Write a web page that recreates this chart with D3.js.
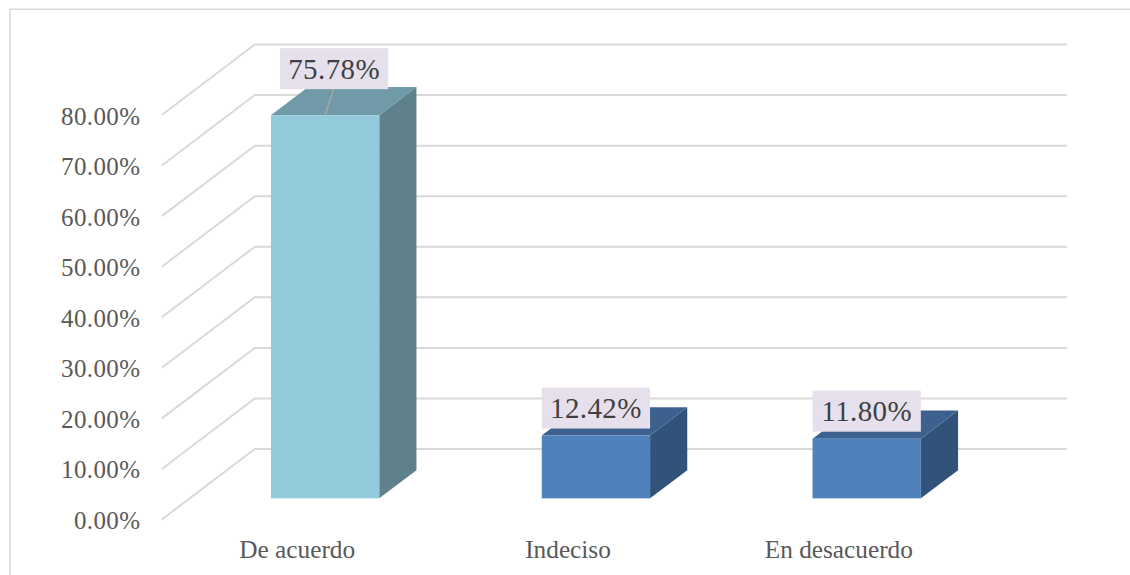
<!DOCTYPE html>
<html>
<head>
<meta charset="utf-8">
<script src="https://cdn.jsdelivr.net/npm/d3@7"></script>
<style>
  html, body { margin: 0; padding: 0; background: #fff; }
  svg { display: block; }
</style>
</head>
<body>
<svg id="chart" width="1130" height="575"></svg>
<script>
// 3D-look column chart, survey answers in percent

const categories = ['De acuerdo', 'Indeciso', 'En desacuerdo'];
const values = [75.78, 12.42, 11.80];
const yTicks = [0, 10, 20, 30, 40, 50, 60, 70, 80];

const FONT = '"Liberation Serif", serif';
const GRID = '#d9d9d9';

// bar colours: front, side, top
const BAR_COLORS = [
    { front: '#93cbdc', side: '#5e818b', top: '#709aa8' },
    { front: '#4f81bd', side: '#325379', top: '#3c618f' },
    { front: '#4f81bd', side: '#325379', top: '#3c618f' }
];

// --- Scales (front plane of the 3D box) ---
const x = d3.scaleBand()
    .domain(categories)
    .range([161.8, 974.2])
    .paddingInner(0.6)
    .paddingOuter(0.3);

const y = d3.scaleLinear()
    .domain([0, 80])
    .range([519.5, 115]);

// how far the chart recedes towards the back wall
const DEPTH = { dx: 93, dy: -70.5 };
const BAR_FRONT = 0.3;
const BAR_BACK = 0.7;

const px = (xFront, depth) => xFront + DEPTH.dx * depth;
const py = (v, depth) => y(v) + DEPTH.dy * depth;
const pts = list => list.map(p => p.join(',')).join(' ');

const svg = d3.select('#chart');

// outer frame, cut by the page edge
svg.append('path')
    .attr('d', 'M10,575V9.2H1130')
    .attr('fill', 'none')
    .attr('stroke', GRID)
    .attr('stroke-width', 1.6);

// --- Grid: side wall plus back wall ---
svg.append('g')
    .selectAll('polyline')
    .data(yTicks)
    .join('polyline')
    .attr('points', d => pts([
        [px(x.range()[0], 0), py(d, 0)],
        [px(x.range()[0], 1), py(d, 1)],
        [px(x.range()[1], 1), py(d, 1)]
    ]))
    .attr('fill', 'none')
    .attr('stroke', GRID)
    .attr('stroke-width', 2);

// --- Axes ---
const yAxis = svg.append('g')
    .attr('transform', 'translate(148.5,1)')
    .call(d3.axisLeft(y).tickValues(yTicks).tickSize(0).tickPadding(8).tickFormat(d => d.toFixed(2) + '%'));
yAxis.select('.domain').remove();
yAxis.selectAll('text')
    .attr('dy', '0.32em')
    .style('font-family', FONT)
    .style('font-size', '25px')
    .style('letter-spacing', '0.4px')
    .style('fill', '#595959');

const xAxis = svg.append('g')
    .attr('transform', 'translate(0,540)')
    .call(d3.axisBottom(x).tickSize(0).tickPadding(0));
xAxis.select('.domain').remove();
xAxis.selectAll('text')
    .attr('dy', '0.71em')
    .style('font-family', FONT)
    .style('font-size', '25.3px')
    .style('fill', '#595959');

// --- Bars ---
const bars = svg.append('g')
    .selectAll('g')
    .data(categories.map((c, i) => ({ c, v: values[i], colors: BAR_COLORS[i] })))
    .join('g');

bars.append('polygon')
    .attr('points', d => {
        const r = x(d.c) + x.bandwidth();
        return pts([
            [px(r, BAR_FRONT), py(d.v, BAR_FRONT)],
            [px(r, BAR_BACK), py(d.v, BAR_BACK)],
            [px(r, BAR_BACK), py(0, BAR_BACK)],
            [px(r, BAR_FRONT), py(0, BAR_FRONT)]
        ]);
    })
    .attr('fill', d => d.colors.side);

bars.append('polygon')
    .attr('points', d => {
        const l = x(d.c), r = l + x.bandwidth();
        return pts([
            [px(l, BAR_FRONT), py(d.v, BAR_FRONT)],
            [px(l, BAR_BACK), py(d.v, BAR_BACK)],
            [px(r, BAR_BACK), py(d.v, BAR_BACK)],
            [px(r, BAR_FRONT), py(d.v, BAR_FRONT)]
        ]);
    })
    .attr('fill', d => d.colors.top);

bars.append('rect')
    .attr('x', d => px(x(d.c), BAR_FRONT))
    .attr('y', d => py(d.v, BAR_FRONT))
    .attr('width', x.bandwidth())
    .attr('height', d => y(0) - y(d.v))
    .attr('fill', d => d.colors.front);

// --- Data labels ---
// the tall bar's label was pulled up and to the right, with a leader line
const isTall = d => d.v > 50;
const boxW = x.bandwidth();
const boxH = 41;
const boxX = d => px(x(d.c), BAR_FRONT) + (isTall(d) ? 9 : 0);
const boxBottom = d => py(d.v, BAR_FRONT) - (isTall(d) ? 26 : 7);

bars.filter(isTall).append('line')
    .attr('x1', d => px(x(d.c), BAR_FRONT) + boxW / 2)
    .attr('y1', d => py(d.v, BAR_FRONT))
    .attr('x2', d => boxX(d) + boxW / 2 - 0.5)
    .attr('y2', d => boxBottom(d))
    .attr('stroke', '#a6a6a6')
    .attr('stroke-width', 1.4);

bars.append('rect')
    .attr('x', boxX)
    .attr('y', d => boxBottom(d) - boxH)
    .attr('width', boxW)
    .attr('height', boxH)
    .attr('fill', '#e6e0ec');

bars.append('text')
    .attr('x', d => boxX(d) + boxW / 2)
    .attr('y', d => boxBottom(d) - boxH / 2)
    .attr('dy', '0.35em')
    .attr('text-anchor', 'middle')
    .style('font-family', FONT)
    .style('font-size', '29px')
    .style('letter-spacing', '0.4px')
    .style('fill', '#404040')
    .text(d => d.v.toFixed(2) + '%');
</script>
</body>
</html>
